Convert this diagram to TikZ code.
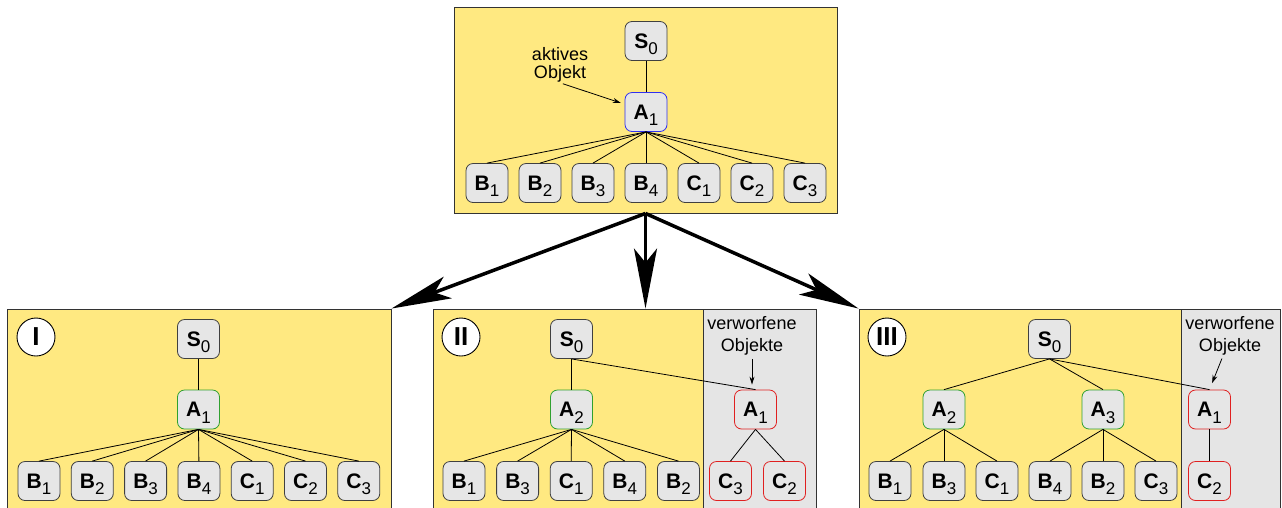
\documentclass[tikz,border=0pt]{standalone}
\usepackage{fontspec}
\setmainfont{Liberation Sans}
\usetikzlibrary{shapes,arrows.meta}

\definecolor{gelb}{HTML}{FFE981}
\definecolor{grau}{HTML}{E5E5E5}
\definecolor{knoten}{HTML}{E6E6E6}
\definecolor{blau}{HTML}{3030F0}
\definecolor{gruen}{HTML}{30A030}
\definecolor{rot}{HTML}{E02020}

% letter with lowered index
\newcommand{\lbl}[2]{#1\raisebox{-6.5pt}[0pt][0pt]{\fontsize{17}{17}\mdseries\selectfont #2}}

\begin{document}
\begin{tikzpicture}[x=1pt,y=-1pt,
  every path/.style={line width=0.8pt},
  panel/.style={draw=black!80, fill=gelb, line width=0.9pt, inner sep=0pt},
  ablage/.style={draw=black!80, fill=grau, line width=0.9pt, inner sep=0pt},
  knot/.style={draw=black!75, fill=knoten, rounded corners=7pt, minimum width=42pt, minimum height=39pt, inner sep=0pt, line width=0.8pt, font=\bfseries\fontsize{21}{21}\selectfont},
  aktiv/.style={knot, draw=blau},
  ok/.style={knot, draw=gruen},
  weg/.style={knot, draw=rot},
  nummer/.style={circle, draw, fill=white, line width=0.9pt, minimum size=38pt, inner sep=0pt, font=\bfseries\fontsize{26}{26}\selectfont},
  notiz/.style={align=center, inner sep=0pt},
  gross/.style={line width=3.5pt, -{Stealth[length=60pt, width=23pt, inset=14pt]}},
  klein/.style={line width=0.8pt, -{Stealth[length=8pt, width=5pt]}}]
  \useasboundingbox (0,0) rectangle (1282,507);

  % top: starting situation
  \node[panel, minimum width=383pt, minimum height=206pt] (top) at (645.5,110) {};
  \node[knot] (ts) at (646,41) {\lbl{S}{0}};
  \node[aktiv] (ta) at (646,112) {\lbl{A}{1}};
  \draw (ts.south) -- (ta.north);
  \foreach \x/\alph/\name/\nr in {0/tb1/B/1, 1/tb2/B/2, 2/tb3/B/3, 3/tb4/B/4, 4/tc1/C/1, 5/tc2/C/2, 6/tc3/C/3}{
    \node[knot] (\alph) at (487+53*\x,183) {\lbl{\name}{\nr}};
    \draw (ta.south) -- (\alph.north); }
  \node[notiz, font=\fontsize{18}{18}\selectfont] (akt) at (560,65) {aktives\\Objekt};
  \draw[klein, shorten <=3pt, shorten >=4pt] (akt.south) -- (ta.160);

  % panel I
  \node[panel, minimum width=384pt, minimum height=211pt] (p1) at (199,414.5) {};
  \node[nummer] (n1) at (36,337) {I};
  \node[knot] (p1s) at (198.5,339) {\lbl{S}{0}};
  \node[ok] (p1a) at (198.5,409.5) {\lbl{A}{1}};
  \draw (p1s.south) -- (p1a.north);
  \foreach \x/\alph/\name/\nr in {0/p1b1/B/1, 1/p1b2/B/2, 2/p1b3/B/3, 3/p1b4/B/4, 4/p1c1/C/1, 5/p1c2/C/2, 6/p1c3/C/3}{
    \node[knot] (\alph) at (39+53.3*\x,481) {\lbl{\name}{\nr}};
    \draw (p1a.south) -- (\alph.north); }

  % panel II
  \node[ablage, minimum width=113pt, minimum height=211pt] (p2g) at (759.5,414.5) {};
  \node[panel, minimum width=270pt, minimum height=211pt] (p2) at (568,414.5) {};
  \node[nummer] (n2) at (461,337) {II};
  \node[knot] (p2s) at (571.5,339) {\lbl{S}{0}};
  \node[ok] (p2a) at (571.5,409.5) {\lbl{A}{2}};
  \node[weg] (p2x) at (755.5,409.5) {\lbl{A}{1}};
  \draw (p2s.south) -- (p2a.north);
  \draw (p2s.south) -- (p2x.north);
  \foreach \x/\alph/\name/\nr in {0/p2b1/B/1, 1/p2b3/B/3, 2/p2c1/C/1, 3/p2b4/B/4, 4/p2b2/B/2}{
    \node[knot] (\alph) at (464+53.6*\x,481) {\lbl{\name}{\nr}};
    \draw (p2a.south) -- (\alph.north); }
  \foreach \x/\alph/\name/\nr in {730.5/p2c3/C/3, 784.5/p2c2/C/2}{
    \node[weg] (\alph) at (\x,481) {\lbl{\name}{\nr}};
    \draw (p2x.south) -- (\alph.north); }
  \node[notiz, font=\fontsize{18}{22}\selectfont] (v2) at (752,336) {verworfene\\Objekte};
  \draw[klein, shorten <=3pt, shorten >=5pt] (v2.south) -- (v2.south |- p2x.north);

  % panel III
  \node[ablage, minimum width=99pt, minimum height=211pt] (p3g) at (1230.5,414.5) {};
  \node[panel, minimum width=322pt, minimum height=211pt] (p3) at (1020,414.5) {};
  \node[nummer] (n3) at (887,337) {III};
  \node[knot] (p3s) at (1049.5,339) {\lbl{S}{0}};
  \foreach \x/\alph/\name/\nr in {944/p3a2/A/2, 1103/p3a3/A/3}{
    \node[ok] (\alph) at (\x,409.5) {\lbl{\name}{\nr}};
    \draw (p3s.south) -- (\alph.north); }
  \node[weg] (p3x) at (1209.5,409.5) {\lbl{A}{1}};
  \draw (p3s.south) -- (p3x.north);
  \foreach \x/\alph/\name/\nr/\von in {890/p3b1/B/1/p3a2, 944/p3b3/B/3/p3a2, 997/p3c1/C/1/p3a2, 1050/p3b4/B/4/p3a3, 1103/p3b2/B/2/p3a3, 1156/p3c3/C/3/p3a3}{
    \node[knot] (\alph) at (\x,481) {\lbl{\name}{\nr}};
    \draw (\von.south) -- (\alph.north); }
  \node[weg] (p3c2) at (1209.5,481) {\lbl{C}{2}};
  \draw (p3x.south) -- (p3c2.north);
  \node[notiz, font=\fontsize{18}{22}\selectfont] (v3) at (1230,336) {verworfene\\Objekte};
  \draw[klein, shorten <=3pt, shorten >=7pt] ([xshift=-7pt]v3.south) -- (p3x.north);

  % the three cases
  \draw[gross] (top.south) -- (p1.north east);
  \draw[gross] (top.south) -- (top.south |- p2.north);
  \draw[gross] (top.south) -- (p3.north west);
\end{tikzpicture}
\end{document}
